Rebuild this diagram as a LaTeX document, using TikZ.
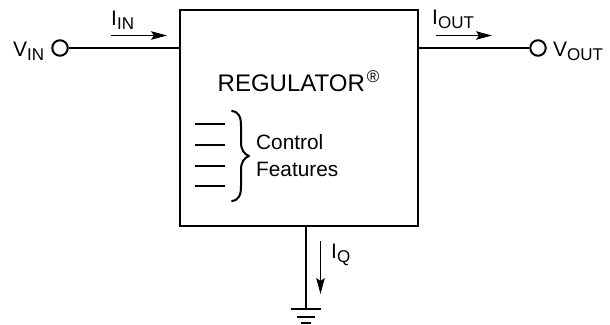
\documentclass[tikz,border=0pt]{standalone}
\usepackage{fontspec}
\setmainfont{Liberation Sans}
\usetikzlibrary{arrows.meta}
\tikzset{
 wire/.style={line width=2pt,line cap=butt},
 feature/.style={line width=2pt},
 cur/.style={line width=1pt,-{Stealth[length=16pt,width=8.5pt,inset=3pt]}},
 term/.style={circle,draw,line width=2pt,minimum size=15.5pt,inner sep=0pt,fill=white},
 lab/.style={inner sep=0pt,anchor=base west,font=\fontsize{21}{24}\selectfont},
}
\newcommand{\lb}[2]{#1\raisebox{-4pt}{\fontsize{17}{18}\selectfont #2}}
\begin{document}
\begin{tikzpicture}[x=1pt,y=-1pt]
\useasboundingbox (0,0) rectangle (610,324);
\node[draw,line width=2pt,minimum width=238pt,minimum height=216pt,inner sep=0pt,anchor=north west] (reg) at (179,9) {};
\node[term] (vin) at (60,48) {};
\node[term] (vout) at (538,48) {};
\coordinate (inb) at (179,48);
\coordinate (outb) at (417,48);
\coordinate (gtop) at (306,225);
\coordinate (g1) at (306,309);
\draw[wire] (vin) -- (inb);
\draw[wire] (outb) -- (vout);
\draw[wire] (gtop) -- (g1);
\draw[wire] ([xshift=-15pt]g1) -- ([xshift=15pt]g1);
\draw[wire] (297,317) -- (315,317);
\draw[wire] (301,323) -- (311,323);
\coordinate (a1) at (111,35.5); \coordinate (a2) at (167,35.5);
\draw[cur] (a1) -- (a2);
\coordinate (b1) at (436,35.5); \coordinate (b2) at (492,35.5);
\draw[cur] (b1) -- (b2);
\coordinate (c1) at (320.5,241); \coordinate (c2) at (320.5,294);
\draw[cur] (c1) -- (c2);
\node[lab] (lvin) at (13,56.5) {\lb{V}{IN}};
\node[lab] (lvout) at (553,56.5) {\lb{V}{OUT}};
\node[lab] (liin) at (111,25) {\lb{I}{IN}};
\node[lab] (liout) at (432,24) {\lb{I}{OUT}};
\node[lab] (liq) at (331,258) {\lb{I}{Q}};
\node[lab,font=\fontsize{24}{26}\selectfont] (title) at (217.5,91) {REGULATOR\kern2pt\raisebox{8.5pt}{\fontsize{17}{17}\selectfont ®}};
\node[lab,font=\fontsize{20.8}{23}\selectfont] (ctl) at (256,149.3) {Control};
\node[lab,font=\fontsize{20.8}{23}\selectfont] (fea) at (256,176.7) {Features};
\draw[feature] (195,124) -- (225,124);
\draw[feature] (195,145) -- (225,145);
\draw[feature] (195,166) -- (225,166);
\draw[feature] (195,186) -- (225,186);
\draw[line width=2pt,line cap=round,line join=round] (232,111) .. controls (239,112) and (241,117) .. (241,126) -- (241,142) .. controls (241,150) and (244,154) .. (249,156) .. controls (244,158) and (241,162) .. (241,170) -- (241,186) .. controls (241,195) and (239,200) .. (232,201);
\end{tikzpicture}
\end{document}
